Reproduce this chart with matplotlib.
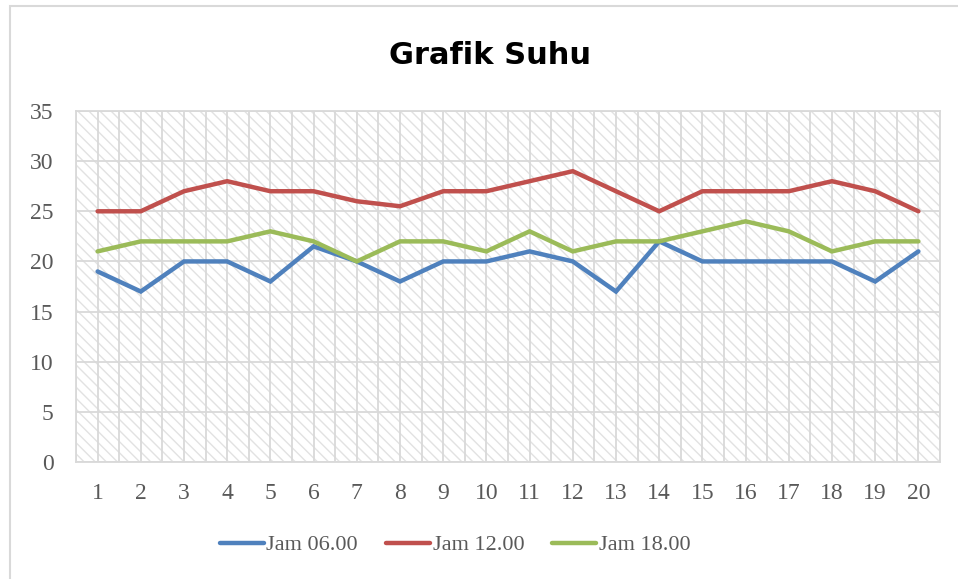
import matplotlib
matplotlib.use("Agg")
import matplotlib.pyplot as plt
from matplotlib.patches import Rectangle
from matplotlib.ticker import MultipleLocator

days = list(range(1, 21))
jam_06 = [19, 17, 20, 20, 18, 21.5, 20, 18, 20, 20, 21, 20, 17, 22, 20, 20, 20, 20, 18, 21]
jam_12 = [25, 25, 27, 28, 27, 27, 26, 25.5, 27, 27, 28, 29, 27, 25, 27, 27, 27, 28, 27, 25]
jam_18 = [21, 22, 22, 22, 23, 22, 20, 22, 22, 21, 23, 21, 22, 22, 23, 24, 23, 21, 22, 22]
series_labels = ["Jam 06.00", "Jam 12.00", "Jam 18.00"]
title = "Grafik Suhu"
y_ticks = [0, 5, 10, 15, 20, 25, 30, 35]

plt.rcParams['hatch.color'] = '#e2e2e2'
plt.rcParams['hatch.linewidth'] = 1.0

fig = plt.figure(figsize=(9.58, 5.79), dpi=100)
ax = fig.add_axes([76/958, 1-462/579, (940-76)/958, (462-111)/579])

# hatched background
bg = Rectangle((0, 0), 1, 1, transform=ax.transAxes, facecolor='white',
               edgecolor='#e2e2e2', hatch='\\\\\\', linewidth=0, zorder=0)
ax.add_patch(bg)

colors = ['#4f81bd', '#c0504d', '#9bbb59']
for vals, lab, c in zip([jam_06, jam_12, jam_18], series_labels, colors):
    ax.plot(days, vals, color=c, lw=3.2, label=lab, solid_capstyle='round',
            solid_joinstyle='miter', zorder=3)

ax.set_xlim(0.5, 20.5)
ax.set_ylim(0, 35)
ax.set_xticks(days)
ax.set_xticklabels([str(d) for d in days])
ax.xaxis.set_minor_locator(MultipleLocator(1, offset=0.5))
ax.set_yticks(y_ticks)
ax.grid(True, which='both', color='#d9d9d9', lw=1.3, zorder=1)
ax.set_axisbelow(True)
ax.tick_params(axis='both', which='both', length=0)
ax.tick_params(axis='x', pad=15)
ax.tick_params(axis='y', pad=16)
for lab in ax.get_xticklabels() + ax.get_yticklabels():
    lab.set_fontfamily('Liberation Serif')
    lab.set_fontsize(17)
    lab.set_color('#595959')
for s in ax.spines.values():
    s.set_color('#d9d9d9')
    s.set_linewidth(1.3)
    s.set_zorder(2)

fig.text(490/958, 1-55/579, title, ha='center', va='center',
         fontsize=22, fontweight='bold', fontfamily='DejaVu Sans', color='black')

fig.legend(loc='center', bbox_to_anchor=(455/958, 1-545/579), ncol=3, frameon=False,
           prop={'family': 'Liberation Serif', 'size': 16},
           handlelength=2.0, handletextpad=0.1, columnspacing=1.25, labelcolor='#595959')

fig.patches.append(Rectangle((10/958, -0.2), 1.2, 1-6/579+0.2, transform=fig.transFigure,
                             fill=False, edgecolor='#d9d9d9', lw=1.5))

fig.savefig('out.png', dpi=100)
